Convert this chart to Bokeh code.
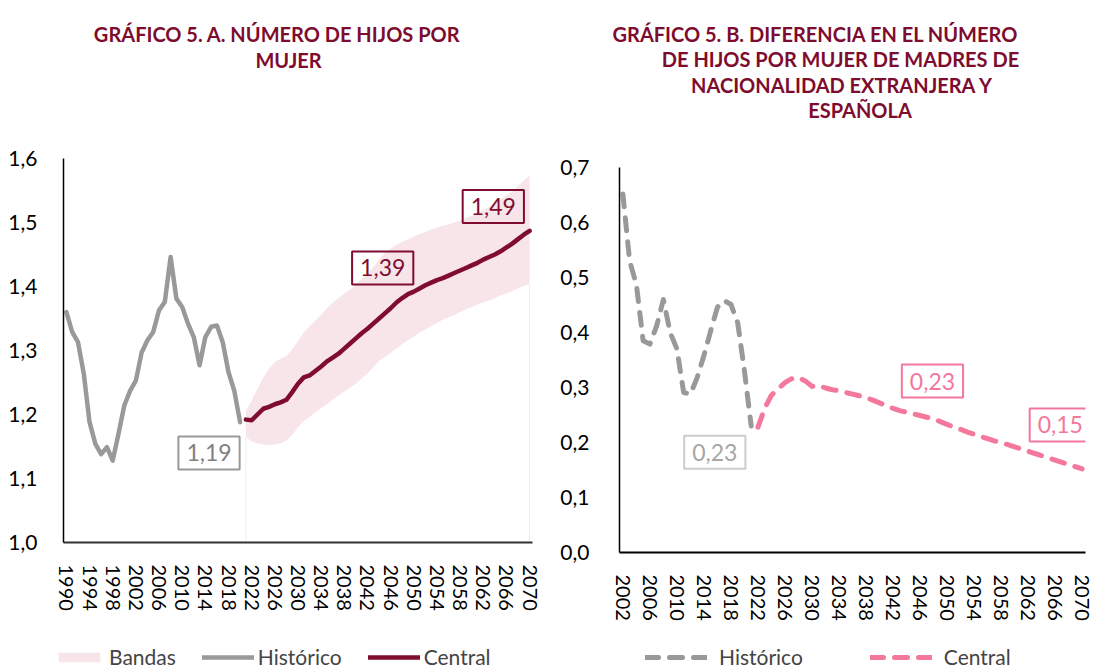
from bokeh.plotting import figure
from bokeh.models import Range1d, FixedTicker, Label, Legend, LegendItem
from bokeh.layouts import row, column
from bokeh.embed import file_html
from bokeh.resources import INLINE

FONT = "Lato"
TITLE_COLOR = "#7d0c2e"

# ---------------- Chart A data ----------------
hist_years_a = list(range(1990, 2021))
hist_a = [1.360, 1.329, 1.313, 1.264, 1.188, 1.154, 1.138, 1.149, 1.128, 1.170,
          1.214, 1.237, 1.253, 1.297, 1.316, 1.329, 1.363, 1.376, 1.446, 1.381,
          1.368, 1.342, 1.321, 1.277, 1.321, 1.337, 1.339, 1.313, 1.266, 1.237,
          1.188]
proj_years_a = list(range(2021, 2071))
central_a = [1.192, 1.191, 1.200, 1.209, 1.212, 1.216, 1.219, 1.223, 1.235, 1.248,
             1.258, 1.261, 1.268, 1.275, 1.283, 1.289, 1.295, 1.303, 1.311, 1.319,
             1.327, 1.334, 1.342, 1.350, 1.358, 1.366, 1.375, 1.382, 1.388, 1.392,
             1.397, 1.402, 1.406, 1.410, 1.413, 1.417, 1.421, 1.425, 1.429, 1.433,
             1.437, 1.442, 1.446, 1.450, 1.455, 1.461, 1.467, 1.474, 1.481, 1.487]
band_upper_a = [1.205, 1.222, 1.240, 1.258, 1.272, 1.282, 1.287, 1.291, 1.302, 1.315,
                1.328, 1.338, 1.347, 1.356, 1.366, 1.375, 1.382, 1.389, 1.395, 1.403,
                1.412, 1.420, 1.430, 1.442, 1.452, 1.459, 1.465, 1.470, 1.474, 1.478,
                1.482, 1.485, 1.489, 1.492, 1.495, 1.497, 1.500, 1.503, 1.507, 1.511,
                1.515, 1.520, 1.524, 1.530, 1.536, 1.542, 1.549, 1.557, 1.566, 1.573]
band_lower_a = [1.165, 1.158, 1.155, 1.153, 1.152, 1.153, 1.155, 1.159, 1.168, 1.180,
                1.190, 1.196, 1.204, 1.210, 1.216, 1.223, 1.230, 1.236, 1.242, 1.248,
                1.256, 1.264, 1.274, 1.284, 1.290, 1.296, 1.303, 1.310, 1.316, 1.322,
                1.328, 1.333, 1.338, 1.343, 1.348, 1.352, 1.356, 1.360, 1.364, 1.368,
                1.372, 1.375, 1.378, 1.382, 1.386, 1.389, 1.393, 1.397, 1.401, 1.404]
ticks_a = list(range(1990, 2071, 4))
yticks_a = [1.0, 1.1, 1.2, 1.3, 1.4, 1.5, 1.6]
ylabels_a = ["1,0", "1,1", "1,2", "1,3", "1,4", "1,5", "1,6"]
title_a = ["GRÁFICO 5. A.  NÚMERO DE HIJOS POR", "MUJER"]
labels_a = ["1,19", "1,39", "1,49"]
legend_a = ["Bandas", "Histórico", "Central"]

# ---------------- Chart B data ----------------
hist_years_b = list(range(2002, 2022))
hist_b = [0.652, 0.530, 0.487, 0.385, 0.379, 0.412, 0.460, 0.400, 0.370, 0.291,
          0.288, 0.318, 0.358, 0.403, 0.446, 0.458, 0.451, 0.418, 0.330, 0.230]
proj_years_b = list(range(2022, 2071))
central_b = [0.228, 0.262, 0.286, 0.298, 0.309, 0.316, 0.318, 0.312, 0.302, 0.304,
             0.299, 0.296, 0.294, 0.291, 0.288, 0.285, 0.282, 0.277, 0.272, 0.267,
             0.262, 0.258, 0.255, 0.252, 0.249, 0.246, 0.243, 0.238, 0.233, 0.228,
             0.224, 0.219, 0.215, 0.211, 0.207, 0.203, 0.200, 0.196, 0.192, 0.188,
             0.184, 0.180, 0.176, 0.172, 0.168, 0.164, 0.160, 0.156, 0.152]
ticks_b = list(range(2002, 2071, 4))
yticks_b = [0.0, 0.1, 0.2, 0.3, 0.4, 0.5, 0.6, 0.7]
ylabels_b = ["0,0", "0,1", "0,2", "0,3", "0,4", "0,5", "0,6", "0,7"]
title_b = ["GRÁFICO 5. B.  DIFERENCIA EN EL NÚMERO",
           "DE HIJOS POR MUJER DE MADRES DE",
           "NACIONALIDAD EXTRANJERA Y",
           "ESPAÑOLA"]
labels_b = ["0,23", "0,23", "0,15"]
legend_b = ["Histórico", "Central"]

GREY = "#999999"
DARK_RED = "#800d2f"
BAND = "#f8e5ea"
PINK = "#f4789b"


def style(p, xticks, yticks, ylabels, ylab_standoff):
    p.outline_line_color = None
    p.background_fill_color = "white"
    p.border_fill_color = "white"
    p.xgrid.visible = False
    p.ygrid.visible = False
    p.xaxis.ticker = FixedTicker(ticks=xticks)
    p.xaxis.major_label_orientation = "vertical"
    p.xaxis.major_label_text_font = FONT
    p.xaxis.major_label_text_font_size = "20px"
    p.xaxis.major_label_text_color = "black"
    p.xaxis.major_label_standoff = 16
    p.xaxis.major_tick_line_color = None
    p.xaxis.minor_tick_line_color = None
    p.xaxis.axis_line_color = "#333333"
    p.xaxis.axis_line_width = 2
    p.yaxis.ticker = FixedTicker(ticks=yticks)
    p.yaxis.major_label_overrides = {t: l for t, l in zip(yticks, ylabels)}
    p.yaxis.major_label_text_font = FONT
    p.yaxis.major_label_text_font_size = "21px"
    p.yaxis.major_label_text_color = "black"
    p.yaxis.major_label_standoff = ylab_standoff
    p.yaxis.major_tick_line_color = None
    p.yaxis.minor_tick_line_color = None
    p.yaxis.axis_line_color = "black"
    p.yaxis.axis_line_width = 1.5
    p.frame_align = False


def blank(width, height, left=0):
    f = figure(width=width, height=height, x_range=Range1d(0, width - left),
               y_range=Range1d(height, 0), output_backend="svg", toolbar_location=None,
               x_axis_type=None, y_axis_type=None, min_border=0, min_border_left=left)
    f.outline_line_color = None
    f.xgrid.visible = False
    f.ygrid.visible = False
    f.frame_align = False
    return f


def box_label(p, x, y, text, color, border):
    p.add_layout(Label(x=x, y=y, text=text, text_align="center", text_baseline="middle",
                       text_font=FONT, text_font_size="23px", text_color=color,
                       border_line_color=border, border_line_width=2,
                       background_fill_color=None, padding=8))


def title_line(p, x, y, text):
    p.add_layout(Label(x=x, y=y, text=text, text_align="center", text_baseline="alphabetic",
                       text_font=FONT, text_font_size="20px", text_font_style="bold",
                       text_color=TITLE_COLOR))


def make_legend(f, items, glyph_width, standoff, spacing, margin):
    f.add_layout(Legend(items=items, orientation="horizontal", location="top_left",
                        glyph_width=glyph_width, glyph_height=12, label_standoff=standoff,
                        spacing=spacing, padding=0, margin=margin,
                        border_line_color=None, background_fill_alpha=0,
                        label_text_font=FONT, label_text_font_size="21px"))


# ---------------- Chart A ----------------
t1 = blank(552, 130)
title_line(t1, 279, 33, title_a[0])
title_line(t1, 288, 59, title_a[1])

p1 = figure(width=552, height=510, x_range=Range1d(1989.5, 2070.5), y_range=Range1d(1.0, 1.6),
            output_backend="svg", toolbar_location=None,
            min_border_left=63, min_border_right=20, min_border_top=28, min_border_bottom=98)
style(p1, ticks_a, yticks_a, ylabels_a, 20)

p1.varea(x=proj_years_a, y1=band_lower_a, y2=band_upper_a, fill_color=BAND)
p1.segment(x0=[proj_years_a[0], proj_years_a[-1]], y0=[1.0, 1.0],
           x1=[proj_years_a[0], proj_years_a[-1]], y1=[band_lower_a[0], band_lower_a[-1]],
           line_color="#eeeeee", line_width=1)
p1.line(hist_years_a, hist_a, line_color=GREY, line_width=4.5, line_join="round", line_cap="round")
p1.line(proj_years_a, central_a, line_color=DARK_RED, line_width=4.5, line_join="round", line_cap="round")

box_label(p1, 2014.63, 1.140, labels_a[0], "#808080", "#999999")
box_label(p1, 2044.63, 1.429, labels_a[1], DARK_RED, DARK_RED)
box_label(p1, 2063.73, 1.525, labels_a[2], DARK_RED, DARK_RED)

# legend strip (proxy renderers use the real series, which fall outside this strip's ranges)
l1 = blank(552, 30, left=49)
rb = l1.varea(x=proj_years_a, y1=band_lower_a, y2=band_upper_a, fill_color=BAND)
rh = l1.line(hist_years_a, hist_a, line_color=GREY, line_width=4.5, line_cap="round")
rc = l1.line(proj_years_a, central_a, line_color=DARK_RED, line_width=4.5, line_cap="round")
make_legend(l1, [LegendItem(label=legend_a[0], renderers=[rb]),
                 LegendItem(label=legend_a[1], renderers=[rh]),
                 LegendItem(label=legend_a[2], renderers=[rc])], 52, 4, 26, 4)

# ---------------- Chart B ----------------
t2 = blank(542, 140)
for txt, cx, by in zip(title_b, [265.5, 288, 289.7, 307.5], [33, 58.5, 84, 109.5]):
    title_line(t2, cx, by, txt)

p2 = figure(width=542, height=500, x_range=Range1d(2001.5, 2070.5), y_range=Range1d(0.0, 0.7),
            output_backend="svg", toolbar_location=None,
            min_border_left=67, min_border_right=9, min_border_top=27, min_border_bottom=88)
style(p2, ticks_b, yticks_b, ylabels_b, 24)
p2.xaxis.axis_line_color = "black"

p2.line(hist_years_b, hist_b, line_color=GREY, line_width=5, line_dash="13 11",
        line_join="round", line_cap="round")
p2.line(proj_years_b, central_b, line_color=PINK, line_width=5, line_dash="13 11",
        line_join="round", line_cap="round")

box_label(p2, 2015.61, 0.1825, labels_b[0], "#a6a6a6", "#cccccc")
box_label(p2, 2047.84, 0.3116, labels_b[1], PINK, PINK)
box_label(p2, 2066.77, 0.232, labels_b[2], PINK, PINK)

l2 = blank(542, 30, left=89)
rh2 = l2.line(hist_years_b, hist_b, line_color=GREY, line_width=5, line_dash="13 11", line_cap="round")
rc2 = l2.line(proj_years_b, central_b, line_color=PINK, line_width=5, line_dash="13 11", line_cap="round")
make_legend(l2, [LegendItem(label=legend_b[0], renderers=[rh2]),
                 LegendItem(label=legend_b[1], renderers=[rc2])], 62, 12, 67, 4)

layout = row(column(t1, p1, l1), column(t2, p2, l2))
open("out.html", "w").write(file_html(layout, INLINE))
